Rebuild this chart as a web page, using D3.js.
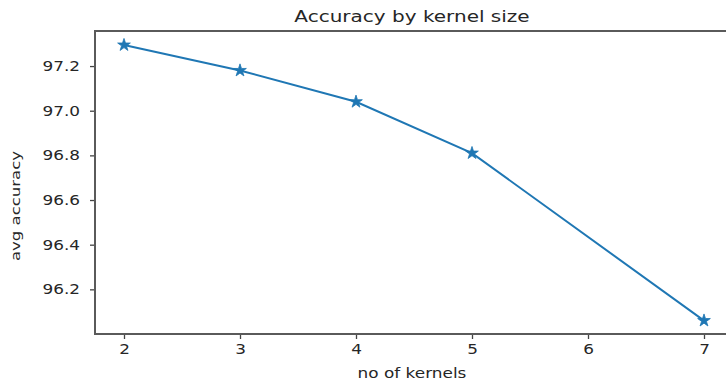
<!DOCTYPE html>
<html>
<head>
<meta charset="utf-8">
<script src="https://cdn.jsdelivr.net/npm/d3@7"></script>
<style>
  html, body { margin: 0; padding: 0; background: #fff; }
  svg { display: block; }
  text { font-family: "DejaVu Sans", sans-serif; fill: #262626; }
</style>
</head>
<body>
<svg id="chart" width="726" height="383"></svg>
<script>
// Average accuracy for each number of kernels
const kernels = [2, 3, 4, 5, 7];
const accuracy = [97.294, 97.18, 97.04, 96.81, 96.06];
const xTicks = [2, 3, 4, 5, 6, 7];
const yTicks = [96.2, 96.4, 96.6, 96.8, 97.0, 97.2];
const titleText = "Accuracy by kernel size";
const xLabel = "no of kernels";
const yLabel = "avg accuracy";

const W = 726, H = 383;
const plot = { left: 95, right: 733, top: 31, bottom: 334 };
const stretch = 1.25; // horizontal stretch of the rendered figure

const svg = d3.select("#chart");

const x = d3.scaleLinear().domain([1.75, 7.25]).range([plot.left, plot.right]);
const y = d3.scaleLinear().domain([96.0, 97.357]).range([plot.bottom, plot.top]);

function widen(sel) {
  sel.each(function () {
    const w = this.getComputedTextLength();
    d3.select(this).attr("textLength", w * stretch).attr("lengthAdjust", "spacingAndGlyphs");
  });
}

// Axes
const xAxis = svg.append("g")
  .attr("transform", `translate(0,${plot.bottom})`)
  .call(d3.axisBottom(x).tickValues(xTicks).tickFormat(d3.format("d")).tickSize(5).tickPadding(5));
const yAxis = svg.append("g")
  .attr("transform", `translate(${plot.left},0)`)
  .call(d3.axisLeft(y).tickValues(yTicks).tickFormat(d3.format(".1f")).tickSize(5).tickPadding(10));

[xAxis, yAxis].forEach(g => {
  g.select(".domain").remove();
  g.selectAll(".tick line").attr("stroke", "#444").attr("stroke-width", 1.3);
  g.selectAll(".tick text")
    .attr("fill", "#262626")
    .style("font-family", "DejaVu Sans, sans-serif")
    .style("font-size", "13.5px");
});
widen(xAxis.selectAll(".tick text"));
widen(yAxis.selectAll(".tick text"));

// Spines
svg.append("rect")
  .attr("x", plot.left).attr("y", plot.top)
  .attr("width", plot.right - plot.left).attr("height", plot.bottom - plot.top)
  .attr("fill", "none").attr("stroke", "#5a5a5a").attr("stroke-width", 2);

// Line
const pts = kernels.map((k, i) => [k, accuracy[i]]);
svg.append("path")
  .datum(pts)
  .attr("fill", "none")
  .attr("stroke", "#1f77b4")
  .attr("stroke-width", 2)
  .attr("d", d3.line().x(d => x(d[0])).y(d => y(d[1])));

// Star markers
svg.append("g").selectAll("path")
  .data(pts)
  .join("path")
  .attr("transform", d => `translate(${x(d[0])},${y(d[1])})`)
  .attr("d", d3.symbol().type(d3.symbolStar).size(50))
  .attr("fill", "#1f77b4")
  .attr("stroke", "#1f77b4")
  .attr("stroke-width", 0.8);

// Title
const t = svg.append("text")
  .attr("x", 412).attr("y", 22)
  .attr("text-anchor", "middle")
  .style("font-size", "16px")
  .text(titleText);
widen(t);

// Axis labels
const xl = svg.append("text")
  .attr("x", 412).attr("y", 378)
  .attr("text-anchor", "middle")
  .style("font-size", "13.5px")
  .text(xLabel);
widen(xl);

svg.append("text")
  .attr("transform", `translate(20,206) rotate(-90)`)
  .attr("text-anchor", "middle")
  .style("font-size", "12.5px")
  .attr("textLength", 110)
  .attr("lengthAdjust", "spacingAndGlyphs")
  .text(yLabel);
</script>
</body>
</html>
